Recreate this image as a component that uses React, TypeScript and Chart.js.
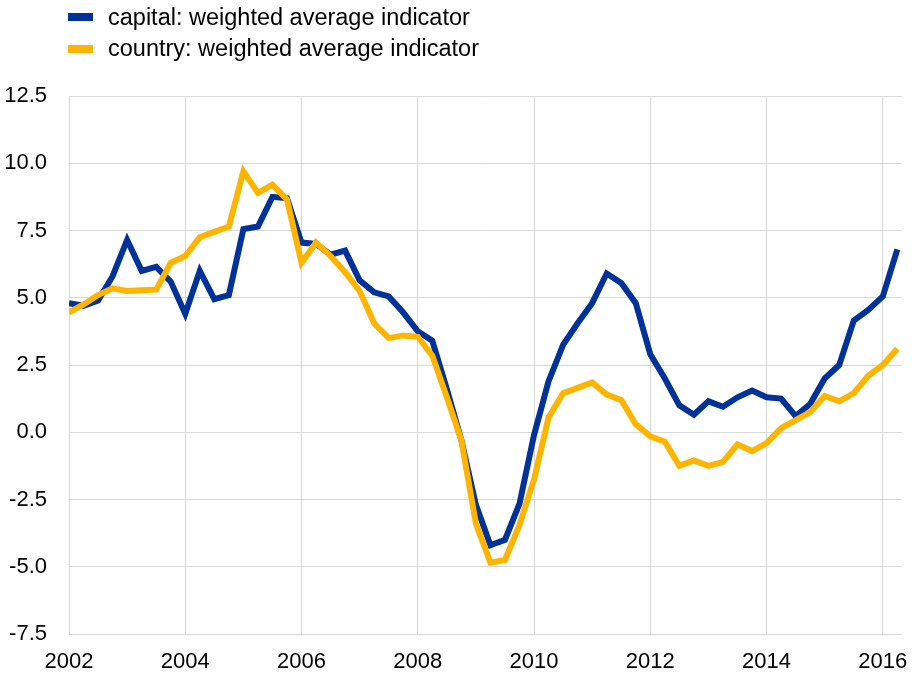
import React, { useEffect, useRef } from "react";
import { Chart, registerables } from "chart.js";

Chart.register(...registerables);

// Quarterly observations from 2002Q1 to 2016Q2
const startYear = 2002;
const quarterCount = 58;
const quarters: string[] = Array.from({ length: quarterCount }, (_, i) =>
  `${startYear + Math.floor(i / 4)}Q${(i % 4) + 1}`
);

const seriesNames = [
  "capital: weighted average indicator",
  "country: weighted average indicator",
];

const capitalValues = [
  4.8, 4.7, 4.9, 5.8, 7.15, 6.0, 6.15, 5.6, 4.4, 6.0, 4.95, 5.1,
  7.55, 7.65, 8.75, 8.7, 7.05, 7.0, 6.6, 6.75, 5.65, 5.2, 5.05, 4.45,
  3.75, 3.4, 1.6, -0.3, -2.7, -4.2, -4.0, -2.65, -0.1, 1.9, 3.25, 4.05,
  4.8, 5.9, 5.55, 4.8, 2.9, 2.0, 1.0, 0.65, 1.15, 0.95, 1.3, 1.55,
  1.3, 1.25, 0.6, 1.05, 2.0, 2.5, 4.15, 4.55, 5.05, 6.8,
];

const countryValues = [
  4.45, 4.75, 5.1, 5.35, 5.25, 5.28, 5.3, 6.3, 6.55, 7.25, 7.45, 7.65,
  9.7, 8.9, 9.2, 8.65, 6.3, 7.05, 6.55, 5.95, 5.25, 4.05, 3.5, 3.6,
  3.55, 2.85, 1.3, -0.3, -3.4, -4.85, -4.75, -3.45, -1.75, 0.55, 1.45, 1.65,
  1.85, 1.4, 1.2, 0.3, -0.15, -0.35, -1.25, -1.05, -1.25, -1.1, -0.45, -0.7,
  -0.4, 0.15, 0.45, 0.75, 1.35, 1.15, 1.45, 2.1, 2.5, 3.1,
];

const xTickYears = [2002, 2004, 2006, 2008, 2010, 2012, 2014, 2016];
const yMin = -7.5;
const yMax = 12.5;
const yStep = 2.5;
const xMin = 2002;
const xMax = 2016.33;

const colors = ["#003299", "#FFB400"];

function quarterToYear(q: string): number {
  const [y, qq] = q.split("Q");
  return Number(y) + (Number(qq) - 1) / 4;
}

export default function App() {
  const canvasRef = useRef<HTMLCanvasElement | null>(null);

  useEffect(() => {
    if (!canvasRef.current) return;
    const font = "'Liberation Sans', Arial, sans-serif";
    const makePoints = (vals: number[]) =>
      vals.map((v, i) => ({ x: quarterToYear(quarters[i]), y: v }));

    const chart = new Chart(canvasRef.current, {
      type: "line",
      data: {
        datasets: [
          {
            label: seriesNames[0],
            data: makePoints(capitalValues),
            borderColor: colors[0],
            backgroundColor: colors[0],
            borderWidth: 6,
            pointRadius: 0,
            tension: 0,
            order: 2,
          },
          {
            label: seriesNames[1],
            data: makePoints(countryValues),
            borderColor: colors[1],
            backgroundColor: colors[1],
            borderWidth: 6,
            pointRadius: 0,
            tension: 0,
            order: 1,
          },
        ],
      },
      options: {
        animation: false,
        responsive: false,
        layout: { padding: { top: 96, right: 12, bottom: 0, left: 0 } },
        plugins: {
          legend: { display: false },
          tooltip: { enabled: false },
        },
        scales: {
          x: {
            type: "linear",
            min: xMin,
            max: xMax,
            afterBuildTicks: (scale: any) => {
              scale.ticks = xTickYears.map((v) => ({ value: v }));
            },
            afterFit: (scale: any) => {
              scale.height = 43;
              scale.paddingLeft = 0;
              scale.paddingRight = 0;
            },
            grid: { color: "#d9d9d9", lineWidth: 1, drawTicks: false },
            border: { display: false },
            ticks: {
              padding: 15,
              color: "#000",
              font: { family: font, size: 22 },
              maxRotation: 0,
              autoSkip: false,
              callback: (v: any) => String(v),
            },
          },
          y: {
            type: "linear",
            min: yMin,
            max: yMax,
            afterFit: (scale: any) => {
              scale.width = 69;
            },
            grid: { color: "#d9d9d9", lineWidth: 1, drawTicks: false },
            border: { display: false },
            ticks: {
              stepSize: yStep,
              padding: 22,
              color: "#000",
              font: { family: font, size: 22 },
              callback: (v: any) => Number(v).toFixed(1),
            },
          },
        },
      },
    });
    return () => chart.destroy();
  }, []);

  const legendFont = "'Liberation Sans', Arial, sans-serif";

  return (
    <div
      style={{
        position: "fixed",
        left: 0,
        top: 0,
        width: 914,
        height: 677,
        background: "#fff",
      }}
    >
      <canvas
        ref={canvasRef}
        width={914}
        height={677}
        style={{ position: "absolute", left: 0, top: 0, width: 914, height: 677 }}
      />
      {seriesNames.map((name, i) => (
        <div
          key={name}
          style={{
            position: "absolute",
            left: 68,
            top: 17 + i * 31.5 - 15,
            height: 30,
            display: "flex",
            alignItems: "center",
            fontFamily: legendFont,
            fontSize: 23.5,
            color: "#000",
            whiteSpace: "nowrap",
          }}
        >
          <span
            style={{
              display: "inline-block",
              width: 25,
              height: 8,
              background: colors[i],
              marginRight: 15,
            }}
          />
          <span>{name}</span>
        </div>
      ))}
    </div>
  );
}
